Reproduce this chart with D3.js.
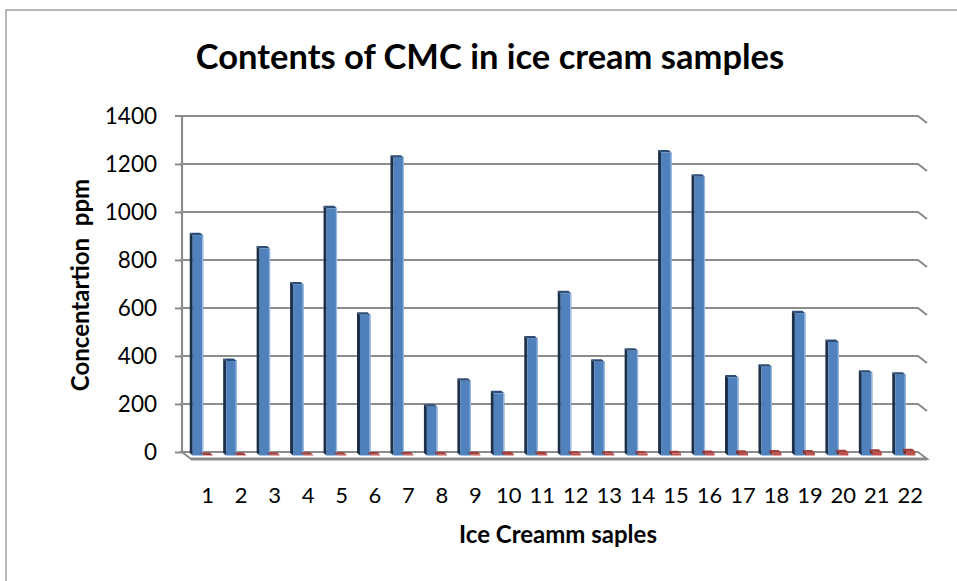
<!DOCTYPE html>
<html>
<head>
<meta charset="utf-8">
<script src="https://cdn.jsdelivr.net/npm/d3@7"></script>
<style>
  html, body { margin: 0; padding: 0; background: #fff; }
  svg { display: block; }
  text { font-family: Lato, "Open Sans", sans-serif; fill: #000; }
</style>
</head>
<body>
<svg id="chart" width="957" height="581"></svg>
<script>
// ---- data ----
const samples = ["1","2","3","4","5","6","7","8","9","10","11","12","13","14","15","16","17","18","19","20","21","22"];
const cmcValues = [918, 394, 862, 713, 1030, 586, 1241, 203, 311, 259, 488, 676, 391, 436, 1262, 1161, 325, 370, 593, 473, 345, 336];
const secondValues = [2, 2, 3, 3, 3, 4, 4, 5, 5, 6, 6, 7, 7, 8, 9, 10, 11, 12, 13, 14, 16, 18];
const yTicks = [0, 200, 400, 600, 800, 1000, 1200, 1400];
const titleText = "Contents of CMC in ice cream samples";
const yTitle = "Concentartion  ppm";
const xTitle = "Ice Creamm saples";

// ---- layout ----
const W = 957, H = 581;
const wall = { left: 182, right: 918, top: 116, bottom: 452 };
const DX = 9, DY = 7;          // depth of the floor (wall -> front)
const gridColor = "#8c8c8c";

const svg = d3.select("#chart");

// outer chart frame
svg.append("rect").attr("x", 6).attr("y", 10).attr("width", W + 10).attr("height", H + 10)
  .attr("fill", "none").attr("stroke", "#a0a0a0").attr("stroke-width", 1.5);

const y = d3.scaleLinear().domain([0, 1400]).range([wall.bottom, wall.top]);
const x = d3.scaleBand().domain(samples).range([wall.left, wall.right]).paddingInner(0).paddingOuter(0);

// gridlines with depth tail on the right
const grid = svg.append("g");
yTicks.forEach(t => {
  if (t === 0) return;
  const yy = y(t);
  grid.append("path")
    .attr("d", `M${wall.left},${yy}H${wall.right}l${DX},${DY}`)
    .attr("fill", "none").attr("stroke", gridColor).attr("stroke-width", 2.2);
});

// floor
const floorG = svg.append("g");
floorG.append("path")
  .attr("d", `M${wall.left},${wall.bottom}H${wall.right}l${DX},${DY}H${wall.left + DX}Z`)
  .attr("fill", "#fff").attr("stroke", gridColor).attr("stroke-width", 2);
floorG.append("path")
  .attr("d", `M${wall.left + DX},${wall.bottom + DY}H${wall.right + DX}`)
  .attr("stroke", "#8a8a8a").attr("stroke-width", 3);

// y axis (wall edge + ticks)
const yAxis = d3.axisLeft(y).tickValues(yTicks).tickSize(7).tickPadding(18).tickFormat(d3.format("d"));
const yg = svg.append("g").attr("transform", `translate(${wall.left},0)`).call(yAxis);
yg.select(".domain").attr("stroke", gridColor).attr("stroke-width", 2.2)
  .attr("d", `M-7,${wall.top}H0V${wall.bottom}`);
yg.selectAll(".tick line").attr("stroke", gridColor).attr("stroke-width", 2);
yg.selectAll(".tick text").style("font-family", "Lato, sans-serif").style("font-size", "22.5px").attr("fill", "#000");
yg.selectAll(".tick").filter(d => d === 1400).select("line").remove();

// bars (3D columns at mid depth)
const midDX = DX / 2, midDY = DY / 2;
const bw = x.bandwidth();
const barW = 10.5, sideW = 3, capH = 2.5;

function drawBar(g, x0, val, w, cols) {
  const base = y(0) + midDY;
  const top = y(val) + midDY;
  // left side face
  g.append("path")
    .attr("d", `M${x0},${top}L${x0 - sideW},${top - capH}V${base - capH}L${x0},${base}Z`)
    .attr("fill", cols.side);
  // top cap
  g.append("path")
    .attr("d", `M${x0},${top}L${x0 - sideW},${top - capH}H${x0 + w - sideW}L${x0 + w},${top}Z`)
    .attr("fill", cols.top);
  // front
  g.append("rect").attr("x", x0).attr("y", top).attr("width", w).attr("height", Math.max(0, base - top))
    .attr("fill", cols.front);
  if (cols.hl) {
    g.append("rect").attr("x", x0 + w - 1.2).attr("y", top).attr("width", 1.2).attr("height", Math.max(0, base - top))
      .attr("fill", cols.hl);
  }
}

const blue = { front: "#4f81bd", side: "#1d3049", top: "#2c4d78", hl: "#9dbbe2" };
const red = { front: "#c0504d", side: "#7b2b29", top: "#a3403d", hl: null };

const barsG = svg.append("g");
samples.forEach((s, i) => {
  const cx = x(s) + bw / 2 + midDX;
  drawBar(barsG, cx - barW, cmcValues[i], barW, blue);
});
samples.forEach((s, i) => {
  const cx = x(s) + bw / 2 + midDX;
  drawBar(barsG, cx + 0.5, secondValues[i], 9, red);
});

// x category labels (at front floor)
svg.append("g").selectAll("text").data(samples).join("text")
  .attr("x", d => x(d) + bw / 2 + DX)
  .attr("y", 503)
  .attr("text-anchor", "middle")
  .style("font-size", "22px")
  .text(d => d);

// titles
svg.append("text").attr("x", 490).attr("y", 69).attr("text-anchor", "middle")
  .style("font-size", "34.5px").style("font-weight", "bold").text(titleText);
svg.append("text").attr("transform", "translate(89,285) rotate(-90)").attr("text-anchor", "middle")
  .style("font-size", "24px").style("font-weight", "bold").style("white-space", "pre")
  .attr("xml:space", "preserve").text(yTitle);
svg.append("text").attr("x", 558).attr("y", 543).attr("text-anchor", "middle")
  .style("font-size", "24px").style("font-weight", "bold").text(xTitle);
</script>
</body>
</html>
